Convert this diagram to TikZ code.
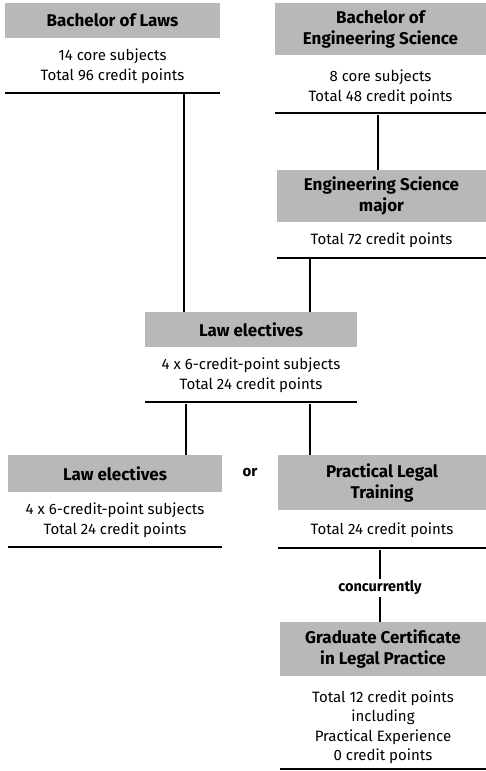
\documentclass[tikz,border=0pt]{standalone}
\usepackage{fontspec}
\setmainfont{Fira Sans}
\begin{document}
\begin{tikzpicture}[x=1pt,y=-1pt,
  hdr/.style={fill=black!28,draw=none,inner sep=0pt,align=center,font=\fontsize{17}{21}\selectfont\bfseries},
  body/.style={inner sep=0pt,align=center,font=\fontsize{15}{19.5}\selectfont},
  rulex/.style={line width=1.7pt},
  conn/.style={line width=1.3pt}]
\useasboundingbox (0,0) rectangle (486,771);
% Bachelor of Laws
\node[hdr,minimum width=215pt,minimum height=35pt] (h1) at (112.5,20.5) {Bachelor of Laws};
\node[body] (b1) at (112.5,66) {14 core subjects\\Total 96 credit points};
\coordinate (r1a) at (5,93); \coordinate (r1b) at (220,93);
\draw[rulex] (r1a) -- (r1b);
% Bachelor of Engineering Science
\node[hdr,minimum width=211pt,minimum height=52pt] (h2) at (380.5,29) {Bachelor of\\Engineering Science};
\node[body] (b2) at (380.5,87) {8 core subjects\\Total 48 credit points};
\coordinate (r2a) at (275,113); \coordinate (r2b) at (486,113);
\draw[rulex] (r2a) -- (r2b);
% Engineering Science major
\node[hdr,minimum width=209pt,minimum height=52pt] (h3) at (381.5,196) {Engineering Science\\major};
\node[body] (b3) at (381.5,240) {Total 72 credit points};
\coordinate (r3a) at (277,258); \coordinate (r3b) at (486,258);
\draw[rulex] (r3a) -- (r3b);
% Law electives (middle)
\node[hdr,minimum width=212pt,minimum height=35pt] (h4) at (251,329.5) {Law electives};
\node[body] (b4) at (251,375) {4 x 6-credit-point subjects\\Total 24 credit points};
\coordinate (r4a) at (145,402); \coordinate (r4b) at (357,402);
\draw[rulex] (r4a) -- (r4b);
% Law electives (bottom left)
\node[hdr,minimum width=214pt,minimum height=37pt] (h5) at (115,473.5) {Law electives};
\node[body] (b5) at (115,520) {4 x 6-credit-point subjects\\Total 24 credit points};
\coordinate (r5a) at (8,547); \coordinate (r5b) at (222,547);
\draw[rulex] (r5a) -- (r5b);
% or
\node[inner sep=0pt,font=\fontsize{15}{17}\selectfont\bfseries] (or) at (250,473) {or};
% Practical Legal Training
\node[hdr,minimum width=208pt,minimum height=55pt] (h6) at (382,482.5) {Practical Legal\\Training};
\node[body] (b6) at (382,530) {Total 24 credit points};
\coordinate (r6a) at (278,548); \coordinate (r6b) at (486,548);
\draw[rulex] (r6a) -- (r6b);
% concurrently
\node[inner sep=2pt,font=\fontsize{14.5}{16}\selectfont\bfseries] (conc) at (380,588) {concurrently};
% Graduate Certificate
\node[hdr,minimum width=206pt,minimum height=54pt] (h7) at (383,649) {Graduate Certificate\\in Legal Practice};
\node[body] (b7) at (383,727) {Total 12 credit points\\including\\Practical Experience\\0 credit points};
\coordinate (r7a) at (280,769); \coordinate (r7b) at (486,769);
\draw[rulex] (r7a) -- (r7b);
% connectors
\coordinate (c1) at (184,93);
\draw[conn] (c1) -- (c1 |- h4.north);
\coordinate (c2) at (378,115);
\draw[conn] (c2) -- (c2 |- h3.north);
\coordinate (c3) at (310,259);
\draw[conn] (c3) -- (c3 |- h4.north);
\coordinate (c4) at (186,404);
\draw[conn] (c4) -- (c4 |- h5.north);
\coordinate (c5) at (310,404);
\draw[conn] (c5) -- (c5 |- h6.north);
\coordinate (c6) at (380,550);
\draw[conn] (c6) -- (conc.north);
\draw[conn] (conc.south) -- (conc.south |- h7.north);
\end{tikzpicture}
\end{document}
